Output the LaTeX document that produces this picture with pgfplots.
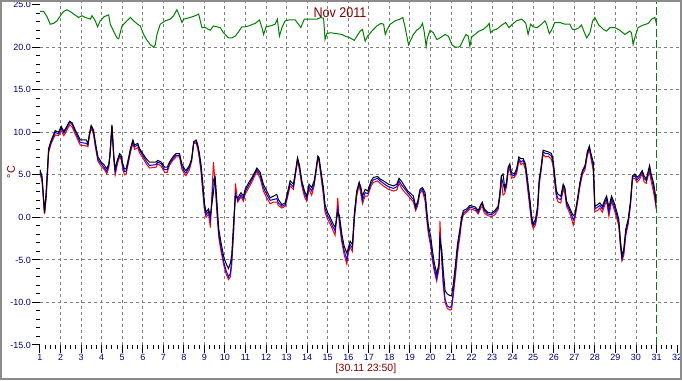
\documentclass[border=0pt]{standalone}
\usepackage{pgfplots}
\pgfplotsset{compat=1.18}
\usepackage{pgfplotstable}
\usepackage{fontspec}
\setmainfont{Liberation Sans}
\definecolor{navy}{RGB}{0,0,128}
\definecolor{maroon}{RGB}{128,0,0}
\definecolor{dgreen}{RGB}{0,128,0}
\definecolor{gridgray}{RGB}{128,128,128}
\definecolor{framegray}{RGB}{140,140,140}

\pgfplotstableread{
d k b r
1.0 5.6 5.4 5.2
1.1 4.8 4.5 4.2
1.22 0.6 0.5 0.4
1.3 3.1 2.5 2.2
1.42 8.1 7.9 7.6
1.55 9.1 8.9 8.7
1.74 10.2 10.0 9.7
1.9 10.0 9.8 9.6
2.03 10.7 10.5 10.2
2.16 10.1 9.9 9.6
2.28 10.6 10.4 10.1
2.44 11.3 11.2 10.9
2.57 11.1 10.9 10.6
2.71 10.3 10.1 9.8
2.84 9.7 9.4 9.1
2.96 9.1 8.8 8.5
3.25 9.1 8.7 8.4
3.33 8.7 8.5 8.3
3.41 9.9 9.8 9.6
3.49 10.8 10.7 10.5
3.6 10.3 10.1 9.8
3.69 8.9 8.6 8.3
3.82 7.1 6.8 6.6
3.98 6.5 6.3 6.0
4.14 6.1 5.8 5.6
4.25 5.7 5.4 5.1
4.35 6.3 6.1 5.9
4.41 7.3 7.5 7.8
4.5 10.7 10.9 10.8
4.59 7.3 7.1 6.8
4.66 5.7 5.3 5.0
4.76 6.7 6.5 6.2
4.87 7.5 7.3 7.1
4.95 7.3 7.0 6.8
5.03 6.3 6.0 5.7
5.11 5.7 5.4 5.0
5.19 5.7 5.4 5.1
5.3 6.9 6.6 6.4
5.4 8.1 7.9 7.6
5.52 9.1 8.9 8.7
5.6 8.5 8.3 8.0
5.76 8.7 8.5 8.2
5.84 8.1 7.9 7.6
6.0 7.5 7.3 7.0
6.17 6.9 6.6 6.3
6.33 6.5 6.1 5.8
6.65 6.5 6.2 5.9
6.73 6.7 6.5 6.3
6.9 6.5 6.3 6.0
7.06 5.9 5.6 5.3
7.19 5.9 5.6 5.3
7.3 6.5 6.3 6.1
7.46 7.1 6.9 6.7
7.62 7.5 7.3 7.1
7.79 7.5 7.3 7.1
7.9 6.3 6.0 5.7
8.03 5.7 5.4 5.1
8.1 5.5 5.2 4.9
8.27 6.1 5.9 5.6
8.38 6.9 6.8 6.6
8.48 8.9 8.8 8.7
8.6 9.1 8.9 8.7
8.68 8.5 8.3 8.0
8.76 7.5 7.1 6.8
8.84 6.1 5.6 5.2
8.92 4.1 3.4 3.0
9.0 1.7 1.2 0.9
9.08 0.6 0.3 0.0
9.2 1.0 0.7 0.4
9.29 0.2 -0.3 -1.2
9.36 1.5 1.8 2.5
9.44 2.9 4.5 6.5
9.52 4.9 4.6 4.0
9.6 2.1 1.3 0.8
9.7 -1.4 -2.0 -2.4
9.81 -3.0 -3.6 -4.0
9.94 -4.6 -5.2 -5.6
10.05 -5.4 -6.2 -6.6
10.17 -6.0 -7.0 -7.3
10.26 -5.4 -6.6 -7.0
10.33 -4.4 -5.0 -5.6
10.43 -0.2 -0.8 -1.5
10.51 2.5 2.8 4.0
10.62 2.3 2.0 1.8
10.78 2.9 2.6 2.4
10.9 2.5 2.2 1.9
10.98 3.3 3.0 2.7
11.16 4.1 3.8 3.5
11.32 4.7 4.5 4.2
11.55 5.8 5.6 5.4
11.71 5.3 5.0 4.6
11.87 3.9 3.5 3.1
12.03 3.1 2.7 2.3
12.2 2.3 2.0 1.6
12.36 2.5 2.1 1.8
12.52 2.7 2.2 1.8
12.6 2.1 1.7 1.4
12.77 1.5 1.3 1.1
12.93 1.7 1.5 1.3
13.04 2.9 2.6 2.3
13.17 4.3 4.0 3.7
13.33 3.9 3.6 3.3
13.45 5.7 5.5 5.3
13.53 7.0 6.9 6.6
13.63 6.1 5.8 5.5
13.74 4.3 4.0 3.7
13.87 3.1 2.8 2.4
13.98 2.5 2.2 1.9
14.09 3.9 3.6 3.3
14.22 3.5 3.1 2.6
14.34 4.3 4.0 3.7
14.42 5.5 5.3 5.1
14.52 7.2 7.1 6.9
14.58 7.0 6.8 6.5
14.68 5.3 5.0 4.6
14.79 3.5 3.0 2.6
14.87 1.5 1.0 0.6
14.99 0.6 0.2 -0.2
15.12 0.0 -0.4 -0.8
15.23 -0.6 -1.0 -1.4
15.36 -1.2 -1.6 -2.1
15.49 0.6 1.0 2.3
15.57 0.2 -0.4 -0.9
15.69 -2.0 -2.6 -3.0
15.8 -3.4 -3.9 -4.4
15.93 -4.2 -5.0 -5.5
16.0 -3.6 -3.9 -4.2
16.09 -2.8 -3.2 -3.5
16.2 -3.2 -3.6 -4.0
16.3 0.6 0.2 -0.2
16.41 3.1 2.8 2.5
16.53 4.1 4.1 3.8
16.62 3.5 3.1 2.6
16.69 2.5 2.0 1.6
16.82 3.3 2.9 2.5
16.95 3.1 2.8 2.5
17.11 4.3 4.0 3.7
17.22 4.7 4.4 4.1
17.43 4.8 4.6 4.3
17.55 4.5 4.3 4.0
17.71 4.3 4.0 3.7
17.95 3.9 3.6 3.3
18.2 3.7 3.4 3.1
18.36 3.9 3.6 3.2
18.47 4.6 4.3 4.0
18.6 4.2 3.8 3.4
18.73 3.7 3.4 3.0
18.89 3.1 2.9 2.6
19.0 2.9 2.6 2.3
19.17 2.5 2.1 1.8
19.28 1.3 1.0 0.8
19.38 1.9 1.7 1.4
19.49 3.3 3.1 2.9
19.61 3.5 3.3 3.1
19.74 2.9 2.4 1.9
19.82 0.8 0.2 -0.3
19.9 -1.0 -1.6 -2.0
20.01 -2.2 -3.0 -3.4
20.09 -3.8 -4.6 -5.0
20.19 -5.4 -6.0 -6.4
20.3 -6.6 -7.2 -7.5
20.42 -5.4 -5.6 -6.0
20.46 -2.8 -2.0 -0.4
20.55 -3.8 -4.6 -5.2
20.62 -6.2 -7.5 -8.0
20.71 -8.6 -9.6 -10.0
20.82 -9.0 -10.4 -10.7
20.95 -9.2 -10.6 -10.9
21.03 -9.2 -10.4 -10.8
21.11 -7.8 -8.6 -9.2
21.22 -5.4 -6.2 -6.8
21.32 -3.0 -3.6 -4.2
21.43 -1.4 -1.8 -2.3
21.51 0.0 -0.3 -0.6
21.6 0.8 0.5 0.3
21.76 1.0 0.8 0.6
21.92 1.4 1.2 1.0
22.08 1.3 1.1 0.9
22.19 1.2 1.0 0.8
22.32 0.8 0.6 0.4
22.45 1.5 1.4 1.1
22.52 1.8 1.6 1.3
22.62 1.0 0.8 0.5
22.78 0.6 0.4 0.2
22.97 0.5 0.3 0.1
23.13 0.8 0.6 0.3
23.29 1.3 1.1 0.9
23.37 2.7 2.5 2.3
23.45 4.9 4.7 4.4
23.53 5.1 4.0 2.6
23.61 3.5 3.2 2.8
23.7 4.1 3.9 3.6
23.78 5.9 5.7 5.4
23.86 6.3 6.0 5.7
23.94 5.3 5.0 4.6
24.07 5.1 4.9 4.7
24.19 5.7 5.4 5.1
24.3 7.1 6.9 6.7
24.4 6.9 6.5 6.2
24.51 6.9 6.7 6.4
24.62 6.3 6.0 5.6
24.72 4.5 4.0 3.5
24.84 2.1 1.5 1.0
24.92 0.2 -0.3 -0.7
25.0 -0.8 -1.0 -1.3
25.11 -0.2 -0.6 -0.9
25.21 1.3 0.9 0.5
25.29 4.5 4.2 3.8
25.37 5.7 5.5 5.2
25.48 7.9 7.7 7.4
25.6 7.8 7.5 7.1
25.73 7.7 7.5 7.2
25.89 7.5 7.2 6.8
25.97 6.7 6.3 5.9
26.05 4.9 4.4 3.9
26.13 3.1 2.7 2.3
26.21 2.7 2.2 1.8
26.34 2.5 2.1 1.7
26.46 3.9 3.7 3.3
26.54 3.5 3.2 2.8
26.62 1.9 1.6 1.3
26.74 1.3 1.0 0.7
26.83 0.8 0.5 0.1
26.95 0.2 -0.3 -0.9
27.03 0.4 0.2 -0.1
27.16 2.3 2.1 1.8
27.27 4.1 3.9 3.6
27.39 5.5 5.3 5.0
27.52 6.1 5.9 5.6
27.63 7.7 7.5 7.2
27.73 8.4 8.2 8.0
27.81 7.5 7.2 6.9
27.92 6.5 6.0 5.5
28.0 1.3 1.0 0.7
28.13 1.5 1.2 0.8
28.24 1.7 1.4 1.1
28.36 1.3 1.0 0.6
28.49 2.1 1.8 1.5
28.57 2.5 2.2 1.9
28.68 1.2 0.6 0.1
28.81 2.5 2.2 1.9
28.94 1.7 1.3 0.9
29.05 0.8 0.4 0.0
29.16 -0.2 -0.6 -1.0
29.24 -2.6 -3.0 -3.4
29.32 -4.6 -4.9 -5.1
29.41 -3.6 -4.0 -4.4
29.5 -1.4 -1.8 -2.2
29.62 -0.2 -0.5 -0.8
29.73 1.9 1.6 1.3
29.83 4.9 4.7 4.5
29.94 5.1 4.9 4.6
30.05 4.7 4.4 4.1
30.18 5.0 4.8 4.5
30.3 5.5 5.4 5.1
30.39 4.9 4.6 4.2
30.5 4.5 4.3 4.0
30.58 5.3 5.1 4.8
30.66 6.1 5.7 5.3
30.74 5.1 4.7 4.2
30.85 4.1 3.6 3.0
30.93 2.9 2.4 1.9
30.98 1.7 1.3 1.0
}\outdoor

\pgfplotstableread{
d g
1.0 24.2
1.18 24.2
1.34 23.6
1.5 22.7
1.66 22.8
1.83 23.1
1.99 23.7
2.15 24.2
2.31 24.4
2.47 24.2
2.64 23.9
2.88 23.5
3.04 23.7
3.2 23.5
3.45 23.3
3.53 23.7
3.69 23.1
3.8 22.4
3.93 23.1
4.13 23.6
4.34 23.8
4.42 22.7
4.58 21.9
4.74 21.1
4.83 21.0
4.99 22.5
5.23 23.1
5.4 23.5
5.56 23.1
5.75 22.7
5.88 22.5
6.04 21.5
6.21 20.8
6.37 20.3
6.53 20.0
6.61 20.3
6.69 21.5
6.85 22.7
7.09 23.1
7.34 23.3
7.5 23.7
7.66 24.4
7.75 23.9
7.91 22.9
7.99 23.3
8.31 23.5
8.55 23.7
8.72 23.9
8.88 22.3
9.04 22.3
9.28 22.0
9.44 22.5
9.77 22.3
9.93 21.7
10.17 21.1
10.34 21.1
10.5 21.3
10.66 21.8
10.82 22.4
10.98 22.4
11.15 22.5
11.47 22.8
11.68 23.2
11.8 22.3
11.88 21.5
12.0 22.4
12.2 22.5
12.44 22.7
12.55 23.3
12.65 21.3
12.77 22.3
12.93 23.1
13.09 23.2
13.42 23.2
13.58 22.7
13.69 22.3
13.86 23.3
14.15 23.3
14.47 23.3
14.66 23.5
14.8 23.4
14.87 20.9
14.96 21.6
15.12 21.7
15.44 21.6
15.69 21.5
15.85 21.3
16.09 21.1
16.29 20.8
16.42 21.3
16.58 21.9
16.69 22.1
16.82 20.7
16.94 21.3
17.15 21.9
17.39 22.5
17.59 22.8
17.72 22.7
17.8 21.5
17.88 22.0
18.04 22.7
18.28 23.1
18.52 23.3
18.65 23.5
18.77 22.3
18.93 20.3
19.01 20.7
19.17 21.5
19.33 22.0
19.5 22.3
19.61 22.8
19.69 21.9
19.79 20.1
19.85 21.1
19.98 22.0
20.14 21.7
20.31 20.9
20.47 21.1
20.71 21.5
20.87 21.3
21.04 20.3
21.2 20.0
21.36 20.0
21.44 20.1
21.6 20.9
21.73 21.5
21.84 21.3
21.92 20.1
22.0 21.2
22.16 21.5
22.37 21.9
22.57 22.1
22.76 22.5
22.86 22.8
22.92 21.7
23.05 22.0
23.21 22.1
23.37 22.4
23.53 22.7
23.66 22.9
23.82 22.3
23.94 22.6
24.18 23.1
24.43 23.3
24.54 23.1
24.64 22.8
24.75 21.5
24.87 22.7
25.0 22.4
25.19 22.3
25.4 22.7
25.57 23.1
25.65 22.7
25.78 21.6
25.89 22.0
26.05 22.9
26.3 22.9
26.54 22.7
26.78 22.7
26.91 22.1
27.07 22.1
27.23 22.3
27.35 22.6
27.46 21.9
27.6 21.1
27.76 21.7
27.89 23.1
28.0 23.5
28.16 22.7
28.41 22.1
28.57 21.9
28.73 22.3
28.97 22.3
29.21 22.0
29.46 21.5
29.7 21.9
29.78 21.7
29.86 20.3
29.94 21.1
30.1 22.3
30.35 22.6
30.6 22.8
30.76 23.3
30.92 23.5
31.0 22.7
}\indoor

\begin{document}
\begin{tikzpicture}
\useasboundingbox (0pt,0pt) rectangle (682pt,380pt);
\fill[white] (0pt,0pt) rectangle (682pt,380pt);
\begin{scope}
\clip (0pt,0pt) rectangle (682pt,380pt);
\begin{axis}[
  at={(40pt,35pt)}, anchor=south west,
  scale only axis, width=641pt, height=345pt,
  xmin=1, xmax=32.19, ymin=-15, ymax=25.55,
  axis x line*=bottom, axis y line*=left,
  axis line style={draw=none},
  tick align=outside,
  xtick={1,...,32}, ytick={-15,-10,...,25},
  minor x tick num=3, minor y tick num=4,
  major tick length=8pt, minor tick length=4pt,
  every tick/.style={black, line width=1pt},
  extra x ticks={2,...,30}, extra x tick labels={},
  extra x tick style={major tick length=0pt, grid=major},
  extra y ticks={-10,-5,...,20}, extra y tick labels={},
  extra y tick style={major tick length=0pt, grid=major},
  major grid style={gridgray, line width=1pt, dash pattern=on 3pt off 3pt},
  /pgf/number format/assume math mode=true,
  yticklabel style={/pgf/number format/.cd, fixed, fixed zerofill, precision=1, /tikz/.cd,
    font=\fontsize{9}{10}\selectfont, text=navy, inner sep=1pt},
  xticklabel style={font=\fontsize{9}{10}\selectfont, text=navy, inner sep=1pt},
  clip=false,
]
\addplot[red, line width=1pt] table[x=d, y=r] {\outdoor};
\addplot[blue, line width=1pt] table[x=d, y=b] {\outdoor};
\addplot[black, line width=1pt] table[x=d, y=k] {\outdoor};
\addplot[dgreen, line width=1pt] table[x=d, y=g] {\indoor};
\addplot[dgreen, line width=1pt, dash pattern=on 8pt off 3pt] coordinates {(31,-15) (31,25.55)};
\end{axis}
\end{scope}
\node[text=maroon, font=\fontsize{14}{16}\selectfont, xscale=0.9, inner sep=0pt] at (340pt,367pt) {Nov 2011};
\node[text=maroon, font=\fontsize{10.5}{12}\selectfont, inner sep=0pt] at (366pt,11pt) {[30.11 23:50]};
\node[text=maroon, font=\fontsize{11}{12}\selectfont, rotate=90, inner sep=0pt] at (11pt,208pt) {°C};
\draw[framegray, line width=2pt] (1pt,1pt) rectangle (681pt,379pt);
\end{tikzpicture}
\end{document}
